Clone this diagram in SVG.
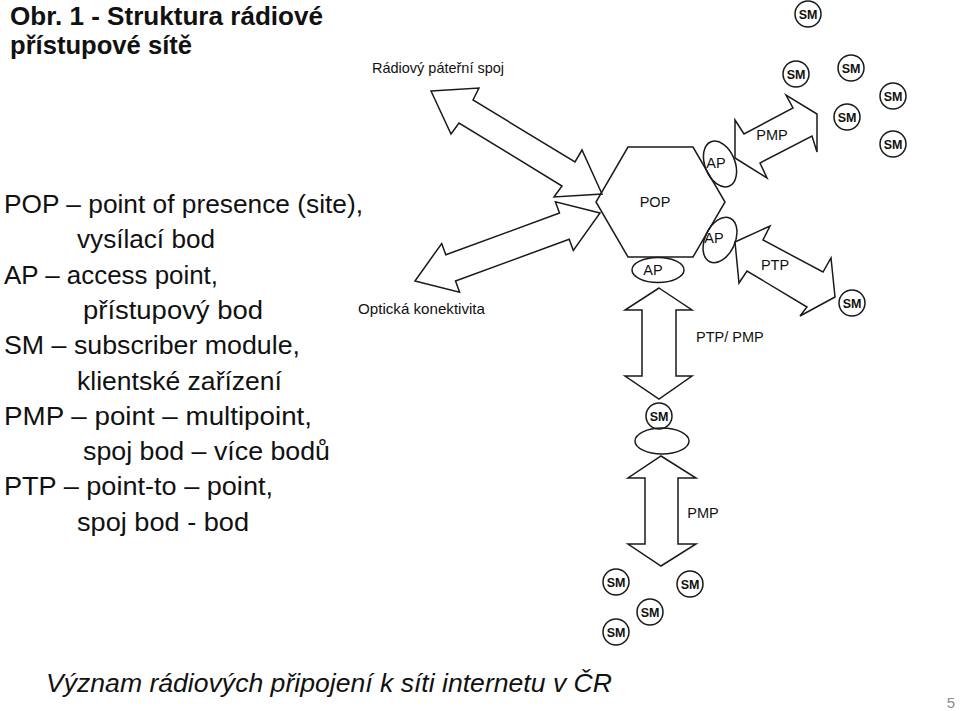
<svg xmlns="http://www.w3.org/2000/svg" width="960" height="711" viewBox="0 0 960 711">
<style>
.ln{fill:none;stroke:#1a1a1a;stroke-width:1.5;stroke-linejoin:miter}
.t{font-family:"Liberation Sans",Arial,sans-serif;fill:#111}
.big{font-size:26.5px}
.lbl{font-size:14.5px;text-anchor:middle}
.sm{font-size:12.5px;font-weight:bold;text-anchor:middle}
</style>
<rect width="960" height="711" fill="#fff"/>
<g id="title">
<text class="t big" x="10" y="25" font-weight="bold" textLength="313" lengthAdjust="spacingAndGlyphs">Obr. 1 - Struktura rádiové</text>
<text class="t big" x="10" y="54" font-weight="bold" textLength="182" lengthAdjust="spacingAndGlyphs">přístupové sítě</text>
</g>
<g id="legend">
<text class="t big" x="4" y="213" textLength="359" lengthAdjust="spacingAndGlyphs">POP – point of presence (site),</text>
<text class="t big" x="77" y="248.3" textLength="138" lengthAdjust="spacingAndGlyphs">vysílací bod</text>
<text class="t big" x="4" y="283.6" textLength="214" lengthAdjust="spacingAndGlyphs">AP – access point,</text>
<text class="t big" x="83" y="318.9" textLength="180" lengthAdjust="spacingAndGlyphs">přístupový bod</text>
<text class="t big" x="4" y="354.2" textLength="296" lengthAdjust="spacingAndGlyphs">SM – subscriber module,</text>
<text class="t big" x="77" y="389.5" textLength="205" lengthAdjust="spacingAndGlyphs">klientské zařízení</text>
<text class="t big" x="4" y="424.8" textLength="308" lengthAdjust="spacingAndGlyphs">PMP – point – multipoint,</text>
<text class="t big" x="83" y="460.1" textLength="247" lengthAdjust="spacingAndGlyphs">spoj bod – více bodů</text>
<text class="t big" x="4" y="495.4" textLength="269" lengthAdjust="spacingAndGlyphs">PTP – point-to – point,</text>
<text class="t big" x="77" y="530.7" textLength="172" lengthAdjust="spacingAndGlyphs">spoj bod - bod</text>
</g>
<g id="connectors">
<polygon id="backbone" class="ln" points="431,91 479,88 473,100 575,162 582,150 602,194 554,197 562,186 459,123 451,134"/>
<polygon id="optical" class="ln" points="415,281 441.7,243.5 445.8,254.8 559.5,213 555.4,201.7 600,213 573.3,250.5 569.2,239.3 455.5,281 459.6,292.3"/>
<polygon id="pmp-top" class="ln" points="735,120 744,134 793,108 786,95 817,114 817,152 812,136 760,163 767,178 735,158"/>
<polygon id="ptp" class="ln" points="735,242 770,226 763,240 823,272 831,258 835,297 800,316 807,307 747,271 739,283"/>
<polygon id="ptp-pmp" class="ln" points="659,288 692,310 676,310 676,376 692,376 659,399 625,376 642,376 642,310 625,310"/>
<polygon id="pmp-bottom" class="ln" points="661,456 696,478 678,478 678,544 696,544 661,566 628,544 645,544 645,478 628,478"/>
</g>
<g id="link-labels">
<text class="t" x="372" y="73" font-size="14.5" textLength="132" lengthAdjust="spacingAndGlyphs">Rádiový páteřní spoj</text>
<text class="t" x="358" y="314" font-size="14.5" textLength="127" lengthAdjust="spacingAndGlyphs">Optická konektivita</text>
<text class="t lbl" x="772" y="140">PMP</text>
<text class="t lbl" x="775" y="270">PTP</text>
<text class="t" x="696" y="342" font-size="14.5">PTP/  PMP</text>
<text class="t lbl" x="703" y="518">PMP</text>
</g>
<g id="pop">
<polygon class="ln" points="628,147 693,147 725,202 693,257 628,257 596,202"/>
<text class="t lbl" x="655" y="207">POP</text>
</g>
<g id="ap-top">
<ellipse class="ln" cx="720" cy="164" rx="15" ry="24" transform="rotate(-22 720 164)"/>
<text class="t lbl" x="716" y="168">AP</text>
</g>
<g id="ap-right">
<ellipse class="ln" cx="720" cy="240" rx="15" ry="24" transform="rotate(25 720 240)"/>
<text class="t lbl" x="714" y="243">AP</text>
</g>
<g id="ap-bottom">
<ellipse class="ln" cx="658" cy="270" rx="26" ry="12.5"/>
<text class="t lbl" x="653" y="275">AP</text>
</g>
<g id="sm-1"><circle class="ln" cx="808" cy="14" r="13"/><text class="t sm" x="808" y="18.5">SM</text></g>
<g id="sm-2"><circle class="ln" cx="796" cy="74" r="13"/><text class="t sm" x="796" y="78.5">SM</text></g>
<g id="sm-3"><circle class="ln" cx="851" cy="68" r="13"/><text class="t sm" x="851" y="72.5">SM</text></g>
<g id="sm-4"><circle class="ln" cx="893" cy="96" r="13"/><text class="t sm" x="893" y="100.5">SM</text></g>
<g id="sm-5"><circle class="ln" cx="847" cy="117" r="13"/><text class="t sm" x="847" y="121.5">SM</text></g>
<g id="sm-6"><circle class="ln" cx="893" cy="144" r="13"/><text class="t sm" x="893" y="148.5">SM</text></g>
<g id="sm-ptp"><circle class="ln" cx="852" cy="303" r="13"/><text class="t sm" x="852" y="307.5">SM</text></g>
<g id="sm-relay"><circle class="ln" cx="659" cy="416" r="13"/><text class="t sm" x="659" y="420.5">SM</text></g>
<g id="relay-ap"><ellipse class="ln" cx="662" cy="441" rx="27" ry="13"/></g>
<g id="sm-7"><circle class="ln" cx="616" cy="582" r="13"/><text class="t sm" x="616" y="586.5">SM</text></g>
<g id="sm-8"><circle class="ln" cx="690" cy="584" r="13"/><text class="t sm" x="690" y="588.5">SM</text></g>
<g id="sm-9"><circle class="ln" cx="650" cy="612" r="13"/><text class="t sm" x="650" y="616.5">SM</text></g>
<g id="sm-10"><circle class="ln" cx="616" cy="632" r="13"/><text class="t sm" x="616" y="636.5">SM</text></g>
<g id="footer">
<text class="t big" x="46" y="692" font-style="italic" textLength="566" lengthAdjust="spacingAndGlyphs">Význam rádiových připojení k síti internetu v ČR</text>
<text class="t" x="951" y="708" font-size="15" fill="#8c8c8c" text-anchor="middle" style="fill:#8c8c8c">5</text>
</g>
</svg>
